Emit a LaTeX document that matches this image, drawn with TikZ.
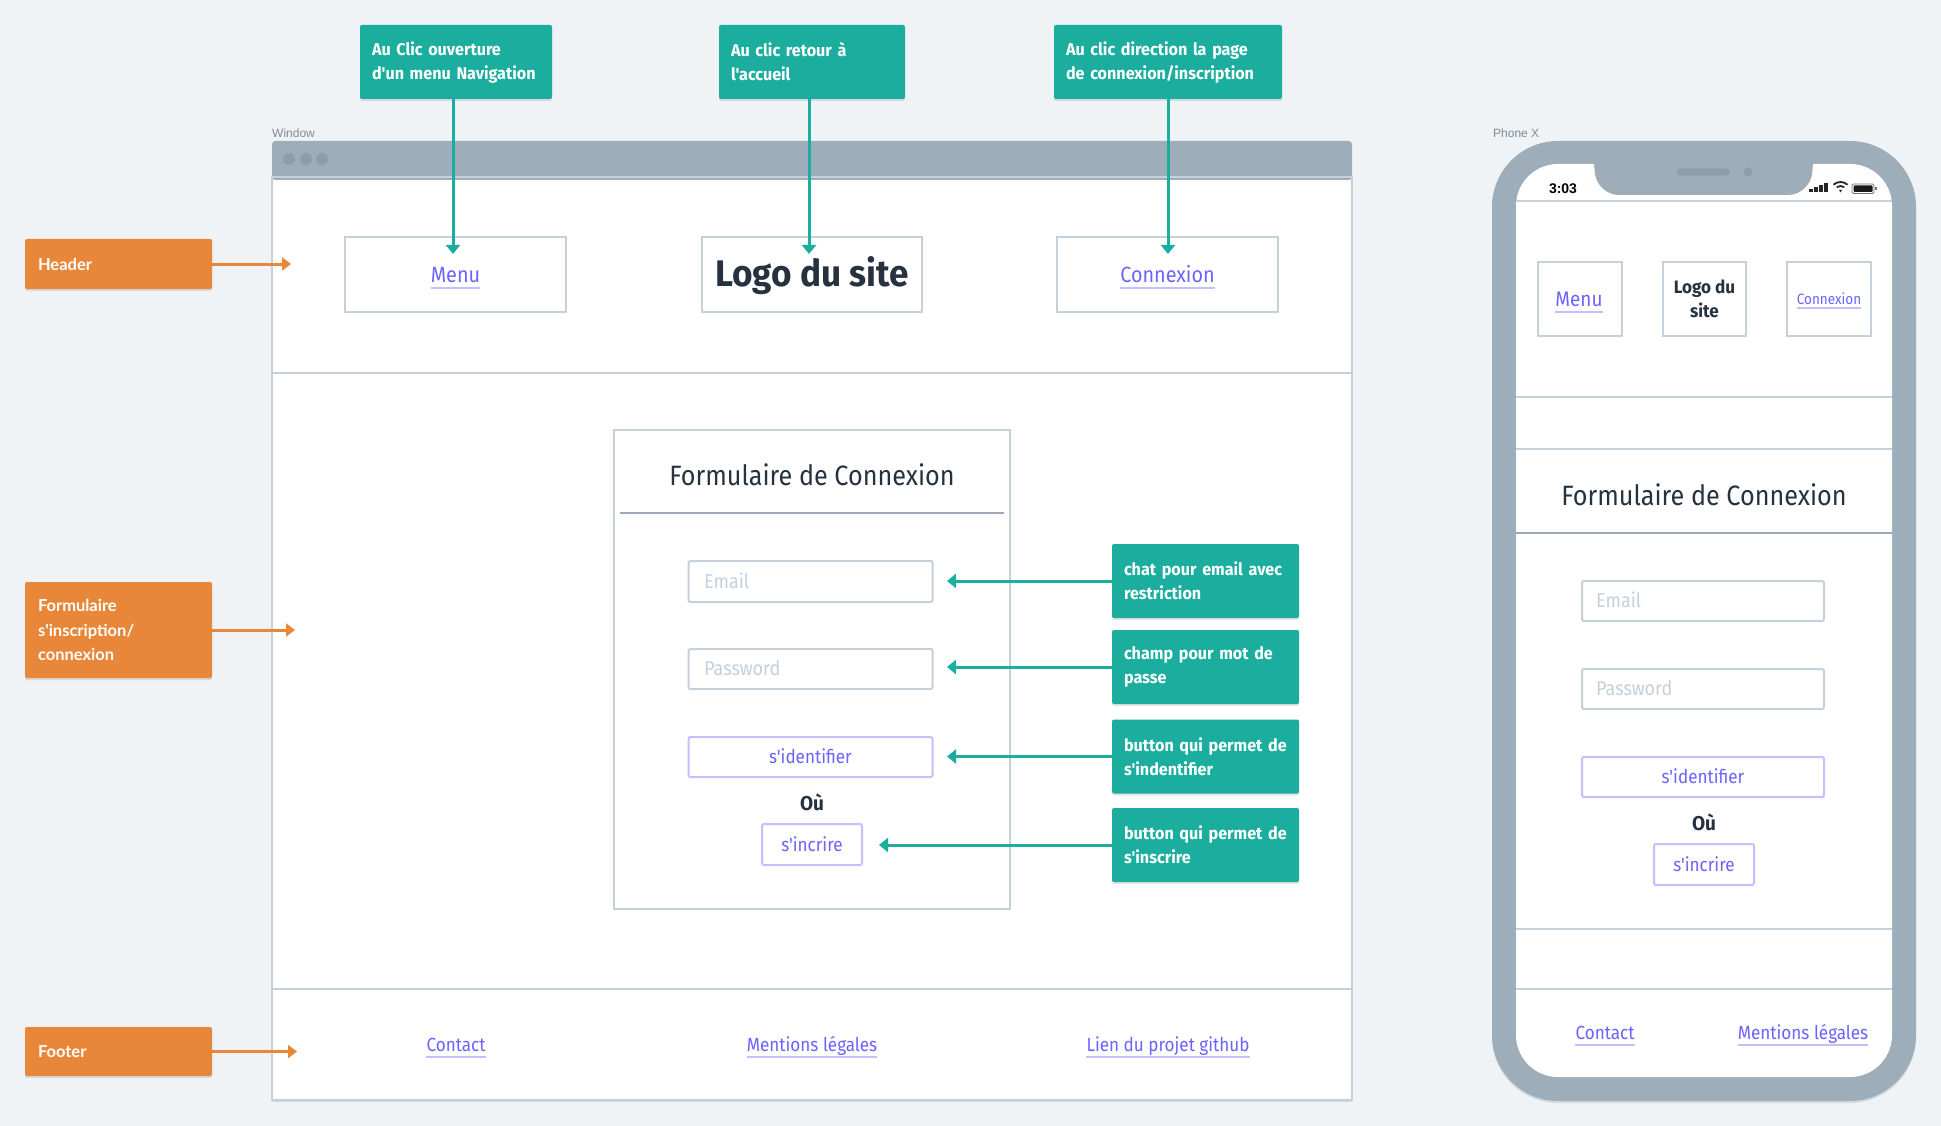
\documentclass[tikz,border=0pt]{standalone}
\usepackage{fontspec}
\setmainfont{Fira Sans}
\newfontfamily\din{Fira Sans}[FakeStretch=0.90, BoldFeatures={FakeStretch=0.95}]
\newfontfamily\lato{Lato}
\newfontfamily\helv{Liberation Sans}
\usetikzlibrary{arrows.meta,shadows}

\definecolor{bgc}{RGB}{239,243,246}
\definecolor{framec}{RGB}{158,173,186}
\definecolor{dotc}{RGB}{142,157,171}
\definecolor{borderc}{RGB}{197,208,219}
\definecolor{rulec}{RGB}{155,168,181}
\definecolor{linkc}{RGB}{108,99,255}
\definecolor{linkul}{RGB}{196,191,255}
\definecolor{tealc}{RGB}{27,174,158}
\definecolor{orangec}{RGB}{232,135,58}
\definecolor{inkc}{RGB}{38,50,64}
\definecolor{holderc}{RGB}{197,208,219}
\definecolor{labelc}{RGB}{125,138,150}

\newcommand\fs[2]{\fontsize{#1}{#2}\selectfont}
% underlined purple link: name, base point, font size, text
\newcommand\weblink[4]{%
  \node[linktext, font=\din\fs{#3}{#3}] (#1) at #2 {#4};
  \draw[ulpen] ([yshift=-5.5pt]#1.base west) -- ([yshift=-5.5pt]#1.base east);
}

\tikzset{
  softshadow/.style={drop shadow={opacity=0.10, shadow xshift=0pt, shadow yshift=-2pt, fill=black}},
  tealbox/.style={fill=tealc, text=white, font=\din\bfseries\fs{17}{24}, align=left,
    inner xsep=12pt, inner ysep=0pt, minimum height=74pt, rounded corners=2pt, softshadow},
  orangebox/.style={fill=orangec, text=white, font=\lato\bfseries\fs{16.5}{24.5}, align=left,
    inner xsep=13pt, inner ysep=0pt, text width=161pt, rounded corners=2pt, softshadow},
  tealarrow/.style={draw=tealc, line width=3pt, -{Triangle[width=14pt,length=9pt]}},
  orangearrow/.style={draw=orangec, line width=3pt, -{Triangle[width=13pt,length=9pt]}},
  wbox/.style={draw=borderc, line width=2pt, fill=white, inner sep=0pt},
  field/.style={draw=borderc, line width=2pt, fill=white, rounded corners=2pt, inner sep=0pt},
  pfield/.style={draw=linkul, line width=2pt, fill=white, rounded corners=2pt, inner sep=0pt},
  linktext/.style={anchor=base, inner sep=0pt, text=linkc},
  ulpen/.style={draw=linkul, line width=2pt},
  holder/.style={anchor=base west, inner sep=0pt, text=holderc, font=\din\fs{20}{20}},
  btntext/.style={anchor=base, inner sep=0pt, text=linkc, font=\din\fs{19}{19}},
  ortext/.style={anchor=base, inner sep=0pt, text=inkc, font=\din\bfseries\fs{20}{20}},
  titletext/.style={anchor=base, inner sep=0pt, text=inkc, font=\din\fs{28}{28}},
  sep/.style={draw=borderc, line width=2pt},
  darksep/.style={draw=rulec, line width=2.5pt},
  smalllabel/.style={anchor=base west, inner sep=0pt, text=labelc, font=\helv\fs{12}{12}},
}

\begin{document}
\begin{tikzpicture}[x=1pt,y=-1pt]
\fill[bgc] (0,0) rectangle (1941,1126);
\useasboundingbox (0,0) rectangle (1941,1126);

%% ---------------- desktop window ----------------
\node[smalllabel] (wlabel) at (272,138) {Window};
\fill[white, softshadow] (272,141) rectangle (1352,1100);
\fill[framec, rounded corners=3pt] (272,141) rectangle (1352,180);
\fill[framec] (272,170) rectangle (1352,177);
\foreach \x in {289,306,322} \fill[dotc] (\x,159) circle (6pt);
\draw[borderc, line width=1.5pt] (272,177) rectangle (1352,1100);
\draw[sep] (272,373) -- (1352,373);
\draw[sep] (272,989) -- (1352,989);

% header
\node[wbox, minimum width=221pt, minimum height=75pt] (wmenu) at (455.5,274.5) {};
\node[wbox, minimum width=220pt, minimum height=75pt] (wlogo) at (812,274.5) {};
\node[wbox, minimum width=221pt, minimum height=75pt] (wconn) at (1167.5,274.5) {};
\weblink{wmenutxt}{(455.5,282)}{22}{Menu}
\node[anchor=base, inner sep=0pt, text=inkc, font=\din\bfseries\fs{37}{37}] (wlogotxt) at (812,287) {Logo du site};
\weblink{wconntxt}{(1167.5,282)}{22}{Connexion}

% login form
\node[draw=borderc, line width=2pt, minimum width=396pt, minimum height=479pt, inner sep=0pt] (wform) at (812,669.5) {};
\node[titletext] (wtitle) at (812,485) {Formulaire de Connexion};
\draw[darksep] (620,513) -- (1004,513);
\node[field, minimum width=244pt, minimum height=41pt] (wemail) at (810.5,581.5) {};
\node[holder] at (704,588) {Email};
\node[field, minimum width=244pt, minimum height=40pt] (wpass) at (810.5,669) {};
\node[holder] at (704,675) {Password};
\node[pfield, minimum width=244pt, minimum height=40pt] (wlogin) at (810.5,757) {};
\node[btntext] at (810.5,763.5) {s'identifier};
\node[ortext] (wor) at (812,810) {Où};
\node[pfield, minimum width=100pt, minimum height=41pt] (wsign) at (812,844.5) {};
\node[btntext] at (812,851) {s'incrire};

% footer
\weblink{wcontact}{(456,1051)}{19}{Contact}
\weblink{wlegal}{(812,1051)}{19}{Mentions légales}
\weblink{wgit}{(1168,1051)}{19}{Lien du projet github}

%% ---------------- callouts ----------------
\node[tealbox, text width=168pt] (c1) at (456,62) {Au Clic ouverture\\d'un menu Navigation};
\node[tealbox, text width=162pt] (c2) at (812,62) {Au clic retour à\\l'accueil};
\node[tealbox, text width=204pt] (c3) at (1168,62) {Au clic direction la page\\de connexion/inscription};
\coordinate (t1) at (453,254);
\coordinate (t2) at (809,254);
\coordinate (t3) at (1168,254);
\draw[tealarrow] (c1.south -| t1) -- (t1);
\draw[tealarrow] (c2.south -| t2) -- (t2);
\draw[tealarrow] (c3.south -| t3) -- (t3);

\node[tealbox, text width=163pt] (r1) at (1205.5,581) {chat pour email avec\\restriction};
\node[tealbox, text width=163pt] (r2) at (1205.5,667) {champ pour mot de\\passe};
\node[tealbox, text width=163pt] (r3) at (1205.5,756.5) {button qui permet de\\s'indentifier};
\node[tealbox, text width=163pt] (r4) at (1205.5,845) {button qui permet de\\s'inscrire};
\coordinate (u1) at (947,581);
\coordinate (u2) at (947,667);
\coordinate (u3) at (947,756.5);
\coordinate (u4) at (879,845);
\draw[tealarrow] (r1.west) -- (u1);
\draw[tealarrow] (r2.west) -- (u2);
\draw[tealarrow] (r3.west) -- (u3);
\draw[tealarrow] (r4.west) -- (u4);

\node[orangebox, minimum height=50pt] (o1) at (118.5,264) {Header};
\node[orangebox, minimum height=96pt] (o2) at (118.5,630) {Formulaire\\s'inscription/\\connexion};
\node[orangebox, minimum height=49pt] (o3) at (118.5,1051.5) {Footer};
\coordinate (p1) at (291,264);
\coordinate (p2) at (295,630);
\coordinate (p3) at (297,1051.5);
\draw[orangearrow] (o1.east) -- (p1);
\draw[orangearrow] (o2.east) -- (p2);
\draw[orangearrow] (o3.east) -- (p3);

%% ---------------- phone ----------------
\node[smalllabel] (plabel) at (1493,138) {Phone X};
\fill[framec, rounded corners=66pt, softshadow] (1492,141) rectangle (1916,1101);
\fill[white, rounded corners=42pt] (1516,164) rectangle (1892,1077);
% notch with speaker and camera
\fill[framec] (1589,160) -- (1594,164) {[rounded corners=22pt] -- (1597,195) -- (1810,195)} -- (1813,164) -- (1818,160) -- cycle;
\fill[dotc, rounded corners=3.5pt] (1677,168.5) rectangle (1730,175.5);
\fill[dotc] (1748,172) circle (4.5pt);
% status bar
\node[anchor=base, inner sep=0pt, font=\helv\bfseries\fs{14}{14}, text=black] (clock) at (1563,194) {3:03};
\foreach \i/\h in {0/3,1/5,2/7,3/9} \fill[black!85] (1809+\i*5,192.5-\h) rectangle (1812.5+\i*5,192.5);
\begin{scope}[black!85]
  \fill (1840.5,192.5) -- ++(240:3) arc (240:300:3) -- cycle;
  \draw[line width=1.8pt] (1840.5,192.5) ++(235:6.5) arc (235:305:6.5);
  \draw[line width=1.8pt] (1840.5,192.5) ++(228:10.5) arc (228:312:10.5);
\end{scope}
\draw[black!55, line width=0.8pt, rounded corners=1.5pt] (1852,184) rectangle (1874,193.5);
\fill[black!90, rounded corners=1pt] (1853.5,185.5) rectangle (1872.5,192);
\fill[black!55] (1875,187) rectangle (1876.5,190.5);
\draw[sep] (1516,201) -- (1892,201);

% header
\node[wbox, minimum width=84pt, minimum height=74pt] (pmenu) at (1580,299) {};
\node[wbox, minimum width=83pt, minimum height=74pt] (plogo) at (1704.5,299) {};
\node[wbox, minimum width=84pt, minimum height=74pt] (pconn) at (1829,299) {};
\weblink{pmenutxt}{(1579,306)}{21}{Menu}
\node[anchor=center, inner sep=0pt, align=center, text=inkc, font=\din\bfseries\fs{18}{24}] (plogotxt) at (1704.5,299) {Logo du\\site};
\node[linktext, font=\din\fs{15}{15}] (pconntxt) at (1829,304) {Connexion};
\draw[ulpen] ([yshift=-4pt]pconntxt.base west) -- ([yshift=-4pt]pconntxt.base east);
\draw[sep] (1516,397) -- (1892,397);
\draw[sep] (1516,449) -- (1892,449);

% login form
\node[titletext] (ptitle) at (1704,505) {Formulaire de Connexion};
\draw[darksep] (1516,533) -- (1892,533);
\node[field, minimum width=242pt, minimum height=40pt] (pemail) at (1703,601) {};
\node[holder] at (1596,607) {Email};
\node[field, minimum width=242pt, minimum height=40pt] (ppass) at (1703,689) {};
\node[holder] at (1596,695) {Password};
\node[pfield, minimum width=242pt, minimum height=40pt] (plogin) at (1703,777) {};
\node[btntext] at (1703,783.5) {s'identifier};
\node[ortext] (por) at (1704,830) {Où};
\node[pfield, minimum width=100pt, minimum height=41pt] (psign) at (1704,864.5) {};
\node[btntext] at (1704,871) {s'incrire};
\draw[sep] (1516,929) -- (1892,929);
\draw[sep] (1516,989) -- (1892,989);

% footer
\weblink{pcontact}{(1605,1039)}{19}{Contact}
\weblink{plegal}{(1803,1039)}{19}{Mentions légales}
\end{tikzpicture}
\end{document}
